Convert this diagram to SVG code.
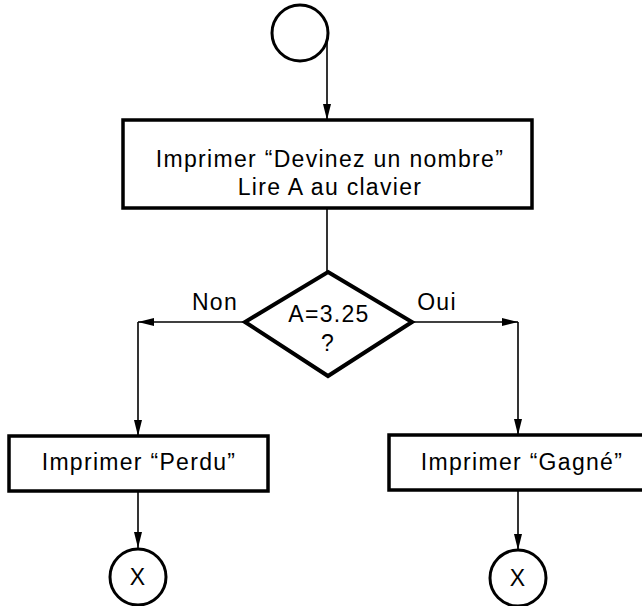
<svg xmlns="http://www.w3.org/2000/svg" width="642" height="606" viewBox="0 0 642 606">
  <style>
    .shape { fill: #fff; stroke: #000; }
    .box { stroke-width: 3.5; }
    .term { stroke-width: 3; }
    .dia { stroke-width: 4; stroke-linejoin: miter; }
    .wire { fill: none; stroke: #000; stroke-width: 1.6; }
    text { font-family: "Liberation Sans", Arial, sans-serif; font-size: 23px; letter-spacing: 1.3px; fill: #000; text-anchor: middle; }
  </style>
  <defs>
    <marker id="arrow" viewBox="0 0 16 8" refX="16" refY="4" markerWidth="16" markerHeight="8" markerUnits="userSpaceOnUse" orient="auto">
      <path d="M0,0 L16,4 L0,8 Z" fill="#000"/>
    </marker>
  </defs>

  <!-- connectors -->
  <g id="connectors">
    <path class="wire" d="M327,40 L327,120" marker-end="url(#arrow)"/>
    <path class="wire" d="M327,208 L327,272"/>
    <path class="wire" d="M245,322 L138,322" marker-end="url(#arrow)"/>
    <path class="wire" d="M138,322 L138,436" marker-end="url(#arrow)"/>
    <path class="wire" d="M412,322 L518,322" marker-end="url(#arrow)"/>
    <path class="wire" d="M518,322 L518,435" marker-end="url(#arrow)"/>
    <path class="wire" d="M138,491 L138,548" marker-end="url(#arrow)"/>
    <path class="wire" d="M518,490 L518,550" marker-end="url(#arrow)"/>
    <text x="215" y="310">Non</text>
    <text x="437" y="310">Oui</text>
  </g>

  <!-- start terminal -->
  <g id="start">
    <circle class="shape term" cx="300" cy="33" r="28"/>
  </g>

  <!-- input step -->
  <g id="input">
    <rect class="shape box" x="123" y="120" width="409" height="88"/>
    <text x="330" y="167">Imprimer “Devinez un nombre”</text>
    <text x="330" y="195">Lire A au clavier</text>
  </g>

  <!-- test -->
  <g id="test">
    <polygon class="shape dia" points="328,272 412,322 328,376 245,322"/>
    <text x="329" y="322">A=3.25</text>
    <text x="328" y="351">?</text>
  </g>

  <!-- lost branch -->
  <g id="lost">
    <rect class="shape box" x="9" y="436" width="259" height="55"/>
    <text x="139" y="470">Imprimer “Perdu”</text>
  </g>

  <!-- won branch -->
  <g id="won">
    <rect class="shape box" x="389" y="435" width="262" height="55"/>
    <text x="522" y="470">Imprimer “Gagné”</text>
  </g>

  <!-- end terminals -->
  <g id="end-lost">
    <circle class="shape term" cx="138" cy="577" r="28"/>
    <text x="138" y="585">X</text>
  </g>
  <g id="end-won">
    <circle class="shape term" cx="518" cy="578" r="28"/>
    <text x="518" y="586">X</text>
  </g>
</svg>
